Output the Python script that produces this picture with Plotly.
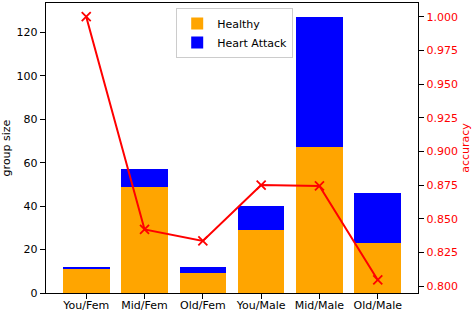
import plotly.graph_objects as go

categories = ["You/Fem", "Mid/Fem", "Old/Fem", "You/Male", "Mid/Male", "Old/Male"]
healthy = [11, 49, 9, 29, 67, 23]
heart_attack = [1, 8, 3, 11, 60, 23]
accuracy = [1.000, 0.842, 0.8335, 0.875, 0.8743, 0.8045]

FONT = "DejaVu Sans"
fig = go.Figure()
fig.add_trace(go.Bar(x=categories, y=healthy, name="Healthy", marker=dict(color="orange", line=dict(width=0)), yaxis="y"))
fig.add_trace(go.Bar(x=categories, y=heart_attack, name="Heart Attack", marker=dict(color="blue", line=dict(width=0)), yaxis="y"))
fig.add_trace(go.Scatter(x=categories, y=accuracy, mode="lines+markers", showlegend=False,
                         line=dict(color="red", width=2),
                         marker=dict(symbol="x-thin", size=9, line=dict(color="red", width=1.8), color="red"),
                         yaxis="y2"))

fig.update_layout(
    width=476, height=312,
    margin=dict(l=46, r=58, t=3, b=19),
    paper_bgcolor="white", plot_bgcolor="white",
    barmode="stack", bargap=0.2,
    font=dict(family=FONT, size=11, color="black"),
    hovermode=False,
    xaxis=dict(type="category", range=[-0.69, 5.69], showline=True, linecolor="black", linewidth=1.2, mirror=True,
               ticks="outside", ticklen=5, tickcolor="black", showgrid=False, zeroline=False,
               tickfont=dict(size=11), automargin=False, ticklabelstandoff=-3),
    yaxis=dict(range=[0, 133.5], tickvals=[0, 20, 40, 60, 80, 100, 120], showline=True, linecolor="black",
               linewidth=1.2, ticks="outside", ticklen=5, tickcolor="black", showgrid=False, zeroline=False,
               title=dict(text="group size", font=dict(size=11), standoff=6), tickfont=dict(size=11),
               automargin=False),
    yaxis2=dict(range=[0.7948, 1.0102], overlaying="y", side="right",
                tickvals=[0.8, 0.825, 0.85, 0.875, 0.9, 0.925, 0.95, 0.975, 1.0], tickformat=".3f",
                showline=True, linecolor="black", linewidth=1.2, ticks="outside", ticklen=5, tickcolor="black",
                showgrid=False, zeroline=False, tickfont=dict(size=11, color="red"),
                title=dict(text="accuracy", font=dict(size=11, color="red"), standoff=4), automargin=False),
    legend=dict(x=0.35, y=0.983, xanchor="left", yanchor="top", bgcolor="rgba(255,255,255,0.8)",
                bordercolor="#cccccc", borderwidth=1, font=dict(size=11), traceorder="normal",
                tracegroupgap=0, itemwidth=30),
)

fig.write_html("out.html", config={"displayModeBar": False, "staticPlot": True},
               post_script="document.body.style.margin='0';document.body.style.padding='0';")
